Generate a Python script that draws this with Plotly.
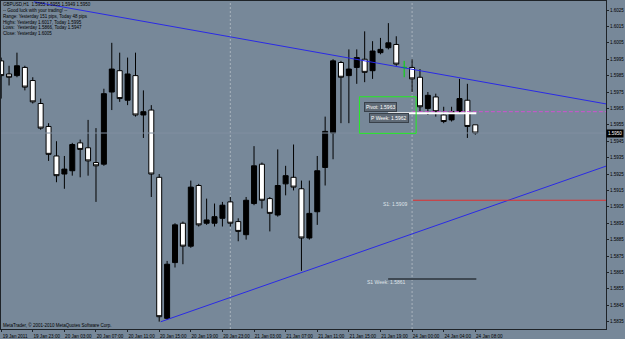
import plotly.graph_objects as go

# ---------------- data (GBPUSD H1) ----------------
bar_index = list(range(61))
opens = [1.5994, 1.5986, 1.5985, 1.5990, 1.5982, 1.5968, 1.5954, 1.5936, 1.5925, 1.5927,
         1.5944, 1.5941, 1.5932, 1.5931, 1.5975, 1.5988, 1.5970, 1.5985, 1.5961, 1.5964,
         1.5923, 1.5837, 1.5871, 1.5895, 1.5881, 1.5918, 1.5895, 1.5895, 1.5898, 1.5908,
         1.5896, 1.5888, 1.5907, 1.5931, 1.5910, 1.5900, 1.5919, 1.5923, 1.5916, 1.5886,
         1.5902, 1.5929, 1.5950, 1.5993, 1.5985, 1.5990, 1.5995, 1.5988, 1.5999, 1.6002,
         1.6004, 1.5990, 1.5990, 1.5984, 1.5965, 1.5972, 1.5961, 1.5958, 1.5963, 1.5970,
         1.5955]
highs = [1.5996, 1.5991, 1.5999, 1.5991, 1.5984, 1.5971, 1.5956, 1.5945, 1.5936, 1.5944,
         1.5946, 1.5958, 1.5953, 1.5977, 1.6005, 1.5999, 1.5996, 1.5999, 1.5976, 1.5967,
         1.5925, 1.5872, 1.5895, 1.5896, 1.5921, 1.5919, 1.5910, 1.5907, 1.5908, 1.5911,
         1.5898, 1.5911, 1.5942, 1.5932, 1.5911, 1.5940, 1.5930, 1.5943, 1.5921, 1.5921,
         1.5936, 1.5960, 1.5995, 1.5994, 1.6001, 1.6001, 1.6012, 1.6006, 1.6008, 1.6017,
         1.6009, 1.5994, 1.5995, 1.5989, 1.5975, 1.5974, 1.5966, 1.5966, 1.5983, 1.5980,
         1.5955]
lows = [1.5971, 1.5979, 1.5984, 1.5976, 1.5968, 1.5952, 1.5933, 1.5920, 1.5916, 1.5924,
        1.5923, 1.5924, 1.5908, 1.5930, 1.5964, 1.5969, 1.5967, 1.5960, 1.5947, 1.5911,
        1.5835, 1.5836, 1.5868, 1.5870, 1.5880, 1.5893, 1.5894, 1.5893, 1.5893, 1.5893,
        1.5884, 1.5885, 1.5906, 1.5904, 1.5890, 1.5899, 1.5912, 1.5915, 1.5866, 1.5885,
        1.5894, 1.5918, 1.5934, 1.5956, 1.5956, 1.5980, 1.5981, 1.5983, 1.5998, 1.6001,
        1.5991, 1.5984, 1.5975, 1.5963, 1.5961, 1.5960, 1.5956, 1.5957, 1.5962, 1.5947,
        1.5949]
closes = [1.5985, 1.5984, 1.5991, 1.5978, 1.5969, 1.5953, 1.5937, 1.5924, 1.5928, 1.5943,
          1.5940, 1.5933, 1.5930, 1.5974, 1.5989, 1.5971, 1.5986, 1.5961, 1.5963, 1.5925,
          1.5838, 1.5870, 1.5894, 1.5881, 1.5917, 1.5894, 1.5897, 1.5899, 1.5906, 1.5895,
          1.5890, 1.5909, 1.5930, 1.5909, 1.5901, 1.5918, 1.5924, 1.5917, 1.5886, 1.5901,
          1.5927, 1.5951, 1.5994, 1.5984, 1.5989, 1.5996, 1.5987, 1.6000, 1.6001, 1.6005,
          1.5992, 1.5990, 1.5983, 1.5966, 1.5973, 1.5963, 1.5957, 1.5963, 1.5971, 1.5954,
          1.5950]

tick_bars = [0, 4, 8, 12, 16, 20, 24, 28, 32, 36, 40, 44, 48, 52, 56, 60]
tick_labels = ["19 Jan 2011", "19 Jan 23:00", "20 Jan 03:00", "20 Jan 07:00",
               "20 Jan 11:00", "20 Jan 15:00", "20 Jan 19:00", "20 Jan 23:00",
               "21 Jan 03:00", "21 Jan 07:00", "21 Jan 11:00", "21 Jan 15:00",
               "21 Jan 19:00", "24 Jan 00:00", "24 Jan 04:00", "24 Jan 08:00"]
price_ticks = [1.6025, 1.6015, 1.6005, 1.5995, 1.5985, 1.5975, 1.5965, 1.5955, 1.5945,
               1.5935, 1.5925, 1.5915, 1.5905, 1.5895, 1.5885, 1.5875, 1.5865, 1.5855,
               1.5845, 1.5835]

separator_bars = [29, 52]
trend_down_x = [4.15, 76.6]
trend_down_y = [1.6030, 1.59677]
trend_up_x = [20.19, 76.6]
trend_up_y = [1.58349, 1.59299]

bid_price = 1.5950
pivot_day = 1.5963
s1_day = 1.5909
pivot_week = 1.5962
s1_week = 1.5861
day_level_x = [52.1, 76.6]
week_level_x = [48.97, 60.13]
box_x = [45.34, 52.51]
box_y = [1.59721, 1.59498]

header_lines = ["GBPUSD,H1  1.5955 1.5955 1.5949 1.5950",
                "-- Good luck with your trading! --",
                "Range: Yesterday 151 pips, Today 48 pips",
                "Highs: Yesterday 1.6017, Today 1.5995",
                "Lows:  Yesterday 1.5866, Today 1.5947",
                "Close: Yesterday 1.6005"]

# ---------------- figure ----------------
BG = "#778899"
FONT = "Liberation Sans, Arial, sans-serif"
X_RANGE = [-0.02, 76.54]
Y_RANGE = [1.58305, 1.60305]

fig = go.Figure()

# bid line
fig.add_trace(go.Scatter(x=X_RANGE, y=[bid_price, bid_price], mode="lines",
                         line=dict(color="#8290a0", width=1), hoverinfo="skip"))

# period separators
for b in separator_bars:
    fig.add_shape(type="line", xref="x", yref="paper", x0=b, x1=b, y0=0, y1=1,
                  line=dict(color="#a9b3bd", width=1, dash="2px,2px"), layer="below")

# candles (non-doji)
idx_main = [i for i in bar_index if opens[i] != closes[i]]
idx_doji = [i for i in bar_index if opens[i] == closes[i]]
fig.add_trace(go.Candlestick(
    x=[bar_index[i] for i in idx_main],
    open=[opens[i] for i in idx_main], high=[highs[i] for i in idx_main],
    low=[lows[i] for i in idx_main], close=[closes[i] for i in idx_main],
    increasing=dict(fillcolor="#000000", line=dict(color="#000000", width=1)),
    decreasing=dict(fillcolor="#ffffff", line=dict(color="#000000", width=1)),
    whiskerwidth=0, hoverinfo="skip"))
fig.add_trace(go.Candlestick(
    x=[bar_index[i] for i in idx_doji],
    open=[opens[i] for i in idx_doji], high=[highs[i] for i in idx_doji],
    low=[lows[i] for i in idx_doji], close=[closes[i] for i in idx_doji],
    increasing=dict(fillcolor="#00dd00", line=dict(color="#00dd00", width=1)),
    decreasing=dict(fillcolor="#00dd00", line=dict(color="#00dd00", width=1)),
    whiskerwidth=0, hoverinfo="skip"))

# trend lines
fig.add_trace(go.Scatter(x=trend_down_x, y=trend_down_y, mode="lines",
                         line=dict(color="#2a2ae6", width=1), hoverinfo="skip"))
fig.add_trace(go.Scatter(x=trend_up_x, y=trend_up_y, mode="lines",
                         line=dict(color="#2a2ae6", width=1), hoverinfo="skip"))

# pivot levels
fig.add_trace(go.Scatter(x=day_level_x, y=[pivot_day, pivot_day], mode="lines",
                         line=dict(color="#d050d0", width=1, dash="4px,2px"), hoverinfo="skip"))
fig.add_trace(go.Scatter(x=day_level_x, y=[s1_day, s1_day], mode="lines",
                         line=dict(color="#e03030", width=1), hoverinfo="skip"))
fig.add_trace(go.Scatter(x=week_level_x, y=[pivot_week, pivot_week], mode="lines",
                         line=dict(color="#ffffff", width=2), hoverinfo="skip"))
fig.add_trace(go.Scatter(x=week_level_x, y=[s1_week, s1_week], mode="lines",
                         line=dict(color="#3e4852", width=2), hoverinfo="skip"))

# green rectangle
fig.add_shape(type="rect", xref="x", yref="y", x0=box_x[0], x1=box_x[1],
              y0=box_y[0], y1=box_y[1], line=dict(color="#22ee22", width=1))

# level labels
def boxed(text, x, y):
    fig.add_annotation(x=x, y=y, xref="x", yref="y", text=text, showarrow=False,
                       font=dict(family=FONT, size=5, color="#ffffff"),
                       bgcolor="#5f6a76", bordercolor="#39414a", borderwidth=1, borderpad=1)

boxed("Pivot: %.4f" % pivot_day, 48.06, 1.59659)
boxed("P Week: %.4f" % pivot_week, 49.05, 1.59594)
fig.add_annotation(x=51.66, y=1.59067, xref="x", yref="y", xanchor="right",
                   text="S1: %.4f" % s1_day, showarrow=False,
                   font=dict(family=FONT, size=5, color="#dfe3e8"))
fig.add_annotation(x=51.4, y=1.58593, xref="x", yref="y", xanchor="right",
                   text="S1 Week: %.4f" % s1_week, showarrow=False,
                   font=dict(family=FONT, size=5, color="#dfe3e8"))

# header text
fig.add_annotation(x=0, y=1, xref="paper", yref="paper", xanchor="left", yanchor="top",
                   xshift=1, yshift=0, align="left", showarrow=False,
                   text="<br>".join(header_lines), borderpad=0,
                   font=dict(family=FONT, size=4.5, color="#000000"))
# copyright
fig.add_annotation(x=0, y=0, xref="paper", yref="paper", xanchor="left", yanchor="bottom",
                   xshift=1, yshift=0, showarrow=False, borderpad=0,
                   text="MetaTrader, © 2001-2010 MetaQuotes Software Corp.",
                   font=dict(family=FONT, size=4.5, color="#000000"))
# current price label
fig.add_annotation(x=1, y=bid_price, xref="paper", yref="y", xanchor="left",
                   text="%.4f" % bid_price, showarrow=False, borderpad=1,
                   bgcolor="#000000", font=dict(family=FONT, size=4.5, color="#ffffff"))

fig.update_layout(
    width=625, height=339, template="none",
    paper_bgcolor=BG, plot_bgcolor=BG,
    margin=dict(l=1, r=19, t=1, b=10),
    showlegend=False, boxgap=0.37, boxgroupgap=0,
    xaxis=dict(range=X_RANGE, tickvals=tick_bars, ticktext=tick_labels,
               ticks="outside", ticklen=2, tickcolor="#1e2328", ticklabelshift=14,
               tickfont=dict(family=FONT, size=4.6, color="#000000"),
               showgrid=False, zeroline=False, showline=True, mirror=True,
               linecolor="#1e2328", linewidth=1, rangeslider=dict(visible=False)),
    yaxis=dict(range=Y_RANGE, side="right", tickvals=price_ticks,
               ticktext=["%.4f" % p for p in price_ticks],
               ticks="outside", ticklen=2, tickcolor="#1e2328",
               tickfont=dict(family=FONT, size=4.5, color="#000000"),
               showgrid=False, zeroline=False, showline=True, mirror=True,
               linecolor="#1e2328", linewidth=1),
)

fig.write_html("out.html")
